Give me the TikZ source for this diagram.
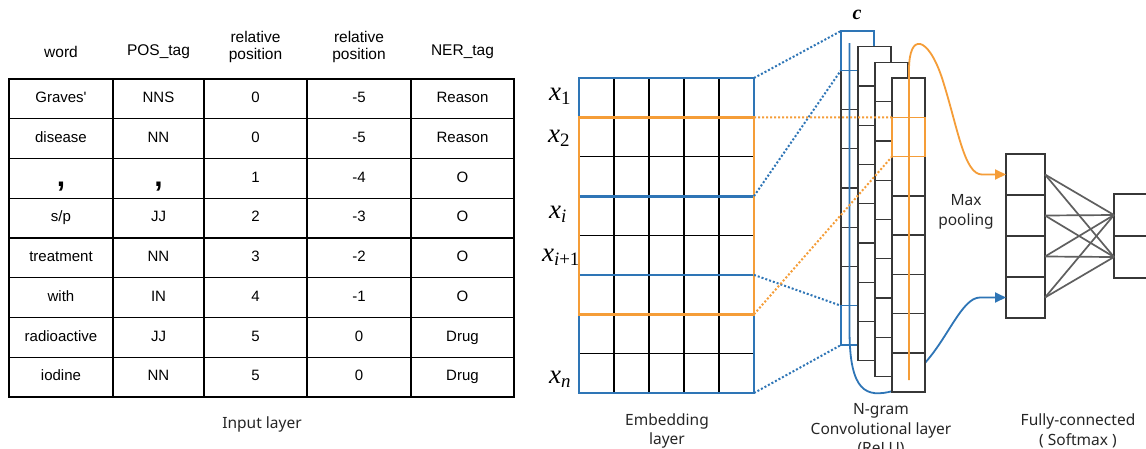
\documentclass[tikz,border=0pt]{standalone}
\usepackage{fontspec}
\setmainfont{Liberation Sans}
\newfontfamily\capfont{Noto Sans}
\newfontfamily\symfont{Liberation Serif}
\usetikzlibrary{arrows.meta,positioning,calc}

\definecolor{winblue}{RGB}{46,117,182}
\definecolor{winorange}{RGB}{245,157,56}
\definecolor{cellgray}{RGB}{55,55,55}
\definecolor{fcgray}{RGB}{95,95,95}

% word vector label, e.g. \vx{1}
\newcommand{\vx}[1]{\textit{x}\textsubscript{#1}}
% the big comma of the token ","
\newcommand{\tabcomma}{\raisebox{-4pt}{\fontsize{30}{30}\selectfont\bfseries,}}
% one feature map column, #1/#2 = top-left corner
\newcommand{\featcol}[2]{%
  \fill[white] (#1,#2) rectangle ++(33,314);
  \foreach \j in {0,...,7}
    \draw[convcell] (#1,{#2+39.25*\j}) rectangle ++(33,39.25);
}

\tikzset{
  tabtext/.style={font=\fontsize{15}{17}\selectfont, align=center, text height=10.5pt, text depth=3pt},
  headtext/.style={font=\fontsize{15.5}{17.5}\selectfont, align=center},
  captext/.style={font=\capfont\fontsize{15.5}{19.5}\selectfont, align=center, text=black!85},
  veclabel/.style={font=\symfont\fontsize{27}{27}\selectfont, inner sep=0pt},
  window/.style={line width=2.8pt},
  proj/.style={line width=2pt, dotted},
  convcell/.style={draw=cellgray, line width=1.3pt},
  fccell/.style={draw=cellgray, line width=1.3pt, minimum width=39pt, minimum height=41pt, inner sep=0pt, outer sep=0pt},
  fcline/.style={fcgray, line width=1.7pt},
  flow/.style={line width=1.8pt, -{Triangle[length=11pt,width=10pt]}},
}

\begin{document}
\begin{tikzpicture}[x=1pt, y=-1pt]
\path[fill=white, use as bounding box] (0,0) rectangle (1146,448);

% input table
\draw[line width=1.4pt] (9,79) rectangle (514,397);
\foreach \x in {113,204,307,411}
  \draw[line width=1.4pt] (\x,79) -- (\x,397);
\foreach \r in {1,...,7}
  \draw[line width=1.4pt] (9,{79+39.75*\r}) -- (514,{79+39.75*\r});

\node[headtext] (hword) at (61,52) {word};
\node[headtext] (hpos) at (158.5,52) {POS\_tag};
\node[headtext] (hrel1) at (255.5,47) {relative\\position};
\node[headtext] (hrel2) at (359,47) {relative\\position};
\node[headtext] (hner) at (462.5,52) {NER\_tag};

\foreach \w/\p/\a/\b/\n [count=\r] in {Graves\textquotesingle/NNS/0/-5/Reason, disease/NN/0/-5/Reason, \tabcomma/\tabcomma/1/-4/O, {s/p}/JJ/2/-3/O, treatment/NN/3/-2/O, with/IN/4/-1/O, radioactive/JJ/5/0/Drug, iodine/NN/5/0/Drug}{
  \node[tabtext] (word\r) at (61,{79+39.75*(\r-0.5)}) {\w};
  \node[tabtext] (pos\r) at (158.5,{79+39.75*(\r-0.5)}) {\p};
  \node[tabtext] (relA\r) at (255.5,{79+39.75*(\r-0.5)}) {\a};
  \node[tabtext] (relB\r) at (359,{79+39.75*(\r-0.5)}) {\b};
  \node[tabtext] (ner\r) at (462.5,{79+39.75*(\r-0.5)}) {\n};
}
\node[captext] (inlabel) at (262,424) {Input layer};

% embedding matrix
\foreach \i in {0,...,5}
  \draw[line width=1.2pt] ({579+35*\i},78) -- ({579+35*\i},393);
\foreach \j in {0,...,8}
  \draw[line width=1.2pt] (579,{78+39.375*\j}) -- (754,{78+39.375*\j});
% sliding windows
\draw[window, winblue] (579,78) rectangle (754,196.1);
\draw[window, winblue] (579,274.9) rectangle (754,393);
\draw[window, winorange] (579,117.4) rectangle (754,314.25);

\node[veclabel] (x1) at (560,96) {\vx{1}};
\node[veclabel] (x2) at (559,138) {\vx{2}};
\node[veclabel] (xi) at (558,214) {\vx{\textit{i}}};
\node[veclabel] (xi1) at (561,257) {\vx{\textit{i}+1}};
\node[veclabel] (xn) at (560,379) {\vx{\textit{n}}};
\node[captext] (emblabel) at (667,431) {Embedding\\layer};

% fully-connected layer
\node[fccell] (p1) at (1025.5,174.5) {};
\node[fccell, below=0pt of p1] (p2) {};
\node[fccell, below=0pt of p2] (p3) {};
\node[fccell, below=0pt of p3] (p4) {};
\node[fccell, minimum width=41pt, minimum height=42pt] (o1) at (1134.5,215) {};
\node[fccell, minimum width=41pt, minimum height=42pt, below=0pt of o1] (o2) {};
\foreach \i in {1,...,4}
  \foreach \j in {1,2}
    \draw[fcline] (p\i.east) -- (o\j.west);
\node[captext] (poollabel) at (966,212) {Max\\pooling};
\node[captext] (fclabel) at (1078,431) {Fully-connected\\( Softmax )};

% convolution windows -> feature maps
\coordinate (bA1) at (754,78);
\coordinate (bA2) at (754,196.1);
\coordinate (oA1) at (754,117.4);
\coordinate (oA2) at (754,314.25);
\coordinate (bB1) at (754,274.9);
\coordinate (bB2) at (754,393);
\coordinate (c1) at (841,31);
\coordinate (c2) at (841,70.25);
\coordinate (c3) at (841,305.75);
\coordinate (c4) at (841,345);
\coordinate (f1) at (892,117.35);
\coordinate (f2) at (892,156.6);

% n-gram feature maps, back to front
\featcol{841}{31}
\draw[winblue, line width=1.1pt] (c1) rectangle ++(33,39.25);
\draw[winblue, line width=1.1pt] (c3) rectangle ++(33,39.25);
\featcol{858}{46.7}
\featcol{875}{62.4}
\draw[flow, winblue] (849.5,43) -- (849.5,330) .. controls (849.5,392) and (866,398) .. (893,391) -- (924,364) .. controls (948,338) and (962,297.5) .. (980,297.5) -- (p4.west);
\featcol{892}{78.1}
\draw[winorange, line width=1.1pt] (f1) rectangle ++(33,39.25);
\draw[flow, winorange] (909,380) -- (909,70) .. controls (909,32) and (928,36) .. (942,78) .. controls (958,128) and (964,174.5) .. (982,174.5) -- (p1.west);

\draw[proj, winblue] (bA1) -- (c1);
\draw[proj, winblue] (bA2) -- (c2);
\draw[proj, winblue] (bB1) -- (c3);
\draw[proj, winblue] (bB2) -- (c4);
\draw[proj, winorange] (oA1) -- (f1);
\draw[proj, winorange] (oA2) -- (f2);

\node[font=\symfont\bfseries\itshape\fontsize{20}{20}\selectfont] (clabel) at (857,15) {c};
\node[captext] (convlabel) at (881,430) {N-gram\\Convolutional layer\\(ReLU)};
\end{tikzpicture}
\end{document}
